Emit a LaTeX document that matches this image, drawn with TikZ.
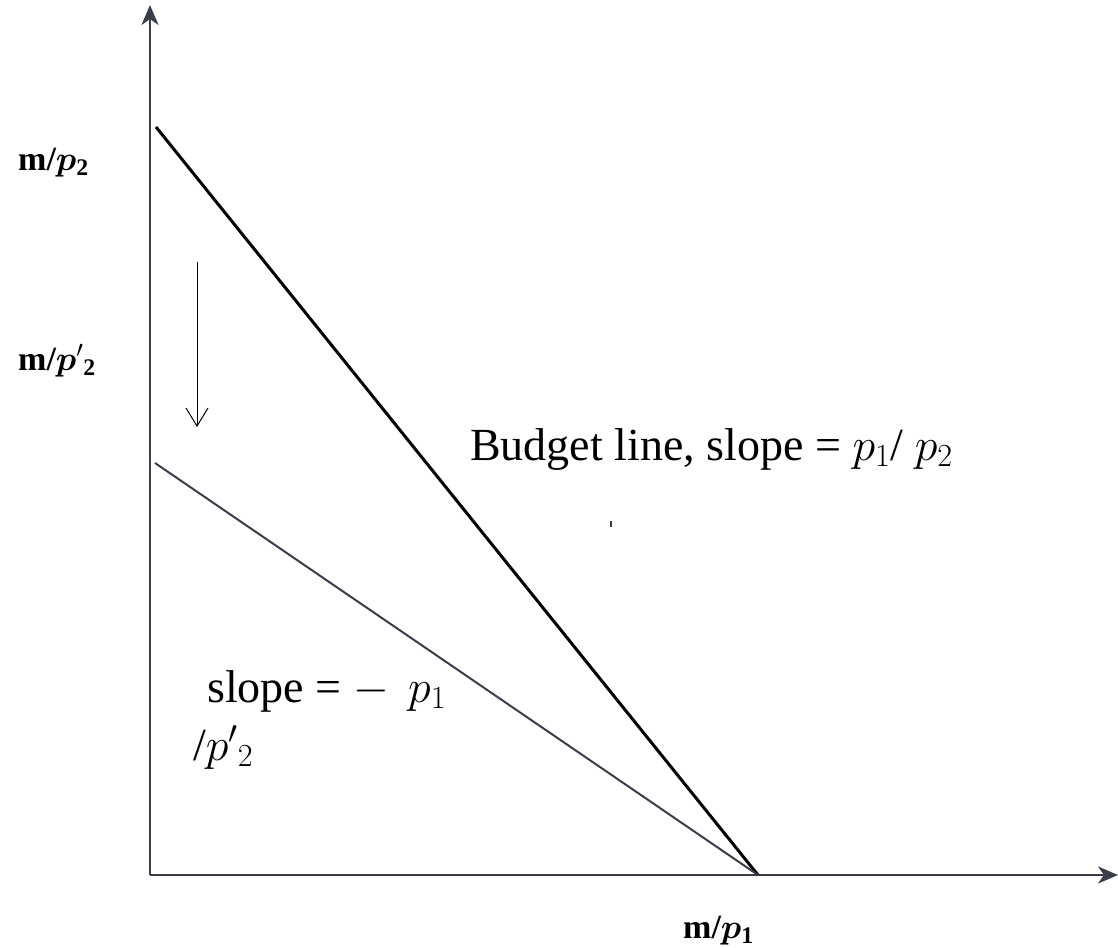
\RequirePackage{fix-cm}
\documentclass[tikz,border=0pt]{standalone}
\usepackage{amsmath}
\usepackage{bm}
\usepackage{fontspec}
\setmainfont{Liberation Serif}
\usetikzlibrary{arrows.meta}
\definecolor{axisc}{HTML}{3A3D4C}
\tikzset{
  axisline/.style={draw=axisc, line width=2.6pt, -{Stealth[length=20pt,width=17pt,inset=6pt]}},
  budget/.style={draw=black, line width=3pt},
  newline/.style={draw=axisc, line width=2pt},
  bigtext/.style={inner sep=0pt, anchor=base west, font=\fontsize{46}{55}\selectfont},
  axlabel/.style={inner sep=0pt, anchor=base west, font=\fontsize{34}{40}\selectfont\bfseries},
  shiftarrow/.style={draw=black, line width=1pt, -{Straight Barb[length=18pt,width=22pt,line width=1pt]}}
}
\begin{document}
\begin{tikzpicture}[x=1pt,y=-1pt]
\useasboundingbox (0,0) rectangle (1118,947);
\coordinate (O) at (150,875);
\coordinate (Ytop) at (150,5);
\coordinate (Xend) at (1118,875);
\coordinate (A) at (156,127);
\coordinate (B) at (155,463);
\coordinate (C) at (758,875);
\coordinate (S1) at (197,262);
\coordinate (S2) at (197,427);
\draw[axisline] (O) -- (Ytop);
\draw[axisline] (O) -- (Xend);
\draw[budget] (A) -- (C);
\draw[newline] (B) -- (C);
\draw[shiftarrow] (S1) -- (S2);
\fill[axisc] (609.5,521) rectangle (611.5,527);
\node[bigtext] (lab1) at (470,460) {Budget line, slope = $p_1$/ $p_2$};
\node[bigtext] (lab2) at (207,702) {slope = $-$ \,$p_1$};
\node[bigtext] (lab3) at (193,760) {/$p'{}_2$};
\node[axlabel] (m2) at (18,170) {m/$\bm{p}_{\mathbf{2}}$};
\node[axlabel] (m2p) at (18,370) {m/$\bm{p}'{}_{\mathbf{2}}$};
\node[axlabel] (m1) at (683,938) {m/$\bm{p}_{\mathbf{1}}$};
\end{tikzpicture}
\end{document}
